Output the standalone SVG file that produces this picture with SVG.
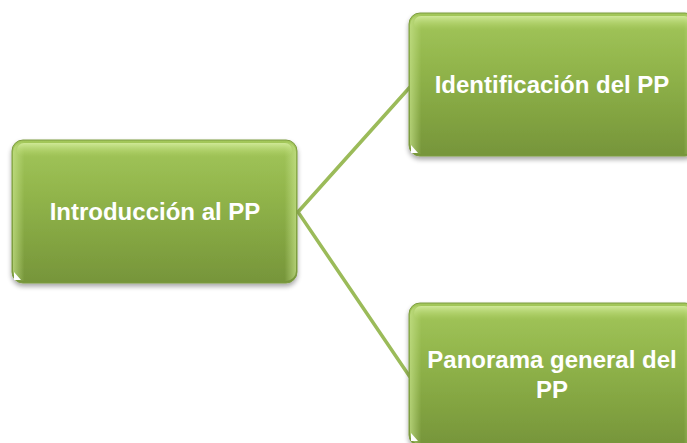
<svg xmlns="http://www.w3.org/2000/svg" width="687" height="443" viewBox="0 0 687 443">
<defs>
<linearGradient id="g" x1="0" y1="0" x2="0" y2="1">
<stop offset="0" stop-color="#a3c75a"/>
<stop offset="0.5" stop-color="#8caf47"/>
<stop offset="1" stop-color="#76953a"/>
</linearGradient>
<linearGradient id="hl" x1="0" y1="0" x2="0" y2="1">
<stop offset="0" stop-color="#d4ec9e" stop-opacity="0.9"/>
<stop offset="1" stop-color="#b2d46a" stop-opacity="0"/>
</linearGradient>
<linearGradient id="edge" x1="0" y1="0" x2="1" y2="0">
<stop offset="0" stop-color="#c6e28a" stop-opacity="0.7"/>
<stop offset="0.04" stop-color="#c6e28a" stop-opacity="0"/>
<stop offset="0.96" stop-color="#c6e28a" stop-opacity="0"/>
<stop offset="1" stop-color="#c6e28a" stop-opacity="0.7"/>
</linearGradient>
<filter id="sh" x="-10%" y="-10%" width="120%" height="130%">
<feGaussianBlur in="SourceAlpha" stdDeviation="2.5"/>
<feOffset dx="0" dy="3" result="b"/>
<feComponentTransfer><feFuncA type="linear" slope="0.35"/></feComponentTransfer>
<feMerge><feMergeNode/><feMergeNode in="SourceGraphic"/></feMerge>
</filter>
</defs>
<style>
.box{fill:url(#g);stroke:#7d9c40;stroke-width:1;filter:url(#sh)}
.hl{fill:url(#hl)}
.ed{fill:url(#edge)}
.tri{fill:#ffffff}
.t{font-family:"Liberation Sans",Arial,sans-serif;font-weight:bold;font-size:24px;fill:#ffffff;text-anchor:middle}
.c{stroke:#9bbb59;stroke-width:3.5;fill:none}
</style>
<g id="connectors">
<path class="c" d="M410,87 L298,212 L410,377"/>
</g>
<g id="n1">
<rect class="box" x="12" y="140" width="285" height="143" rx="11"/>
<rect class="ed" x="13" y="142" width="283" height="139" rx="10"/>
<rect class="hl" x="17" y="143" width="275" height="14" rx="7"/>
<path class="tri" d="M14,272 L14,280 L21,280 Z"/>
<text class="t" x="155" y="220">Introducción al PP</text>
</g>
<g id="n2">
<rect class="box" x="409" y="13" width="287" height="143" rx="11"/>
<rect class="ed" x="410" y="15" width="285" height="139" rx="10"/>
<rect class="hl" x="414" y="16" width="277" height="14" rx="7"/>
<path class="tri" d="M411,145 L411,153 L418,153 Z"/>
<text class="t" x="552" y="93">Identificación del PP</text>
</g>
<g id="n3">
<rect class="box" x="409" y="303" width="287" height="143" rx="11"/>
<rect class="ed" x="410" y="305" width="285" height="139" rx="10"/>
<rect class="hl" x="414" y="306" width="277" height="14" rx="7"/>
<path class="tri" d="M411,433 L411,441 L418,441 Z"/>
<text class="t" x="552" y="368">Panorama general del</text>
<text class="t" x="552" y="398">PP</text>
</g>
</svg>
